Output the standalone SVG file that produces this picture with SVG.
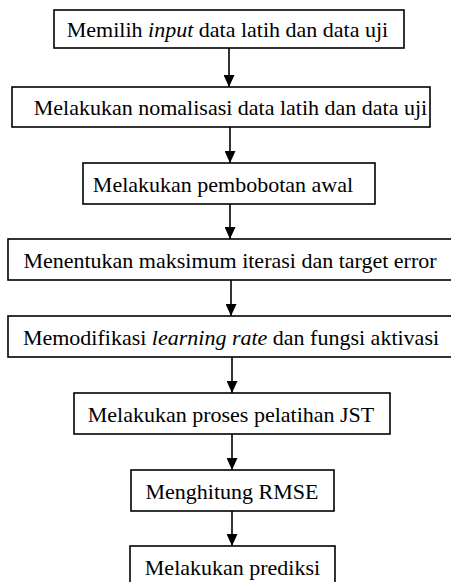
<svg xmlns="http://www.w3.org/2000/svg" width="451" height="582" viewBox="0 0 451 582">
<style>
.box{fill:#fff;stroke:#000;stroke-width:1.6}
.lbl{font-size:22px;fill:#000;text-anchor:middle}
.conn{stroke:#000;stroke-width:1.6;fill:none}
</style>
<defs>
<marker id="ah" markerWidth="12" markerHeight="11" refX="12" refY="5.5" orient="auto" markerUnits="userSpaceOnUse" viewBox="0 0 12 11">
<path d="M0,0 L12,5.5 L0,11 Z" fill="#000"/>
</marker>
</defs>
<rect width="451" height="582" fill="#fff"/>
<g id="connectors">
<line class="conn" marker-end="url(#ah)" x1="229" y1="48" x2="229" y2="87" />
<line class="conn" marker-end="url(#ah)" x1="230" y1="127" x2="230" y2="163" />
<line class="conn" marker-end="url(#ah)" x1="230" y1="204" x2="230" y2="239" />
<line class="conn" marker-end="url(#ah)" x1="231" y1="280" x2="231" y2="316" />
<line class="conn" marker-end="url(#ah)" x1="232" y1="357" x2="232" y2="393" />
<line class="conn" marker-end="url(#ah)" x1="232" y1="434" x2="232" y2="470" />
<line class="conn" marker-end="url(#ah)" x1="232" y1="511" x2="232" y2="546" />
</g>
<g id="n1"><rect class="box" x="54" y="10" width="350" height="38"/><text class="lbl" font-family="Liberation Serif" x="227.5" y="37">Memilih <tspan font-style="italic">input</tspan> data latih dan data uji</text></g>
<g id="n2"><rect class="box" x="12" y="87" width="418" height="40"/><text class="lbl" font-family="Liberation Serif" x="230.5" y="115">Melakukan nomalisasi data latih dan data uji</text></g>
<g id="n3"><rect class="box" x="83" y="163" width="292" height="41"/><text class="lbl" font-family="Liberation Serif" x="223" y="191.5">Melakukan pembobotan awal</text></g>
<g id="n4"><rect class="box" x="8" y="239" width="450" height="41"/><text class="lbl" font-family="Liberation Serif" x="230" y="267.5">Menentukan maksimum iterasi dan target error</text></g>
<g id="n5"><rect class="box" x="8" y="316" width="450" height="41"/><text class="lbl" font-family="Liberation Serif" x="231" y="344.5">Memodifikasi <tspan font-style="italic">learning rate</tspan> dan fungsi aktivasi</text></g>
<g id="n6"><rect class="box" x="74" y="393" width="316" height="41"/><text class="lbl" font-family="Liberation Serif" x="231" y="421.5">Melakukan proses pelatihan JST</text></g>
<g id="n7"><rect class="box" x="131" y="470" width="203" height="41"/><text class="lbl" font-family="Liberation Serif" x="232" y="498.5">Menghitung RMSE</text></g>
<g id="n8"><rect class="box" x="130" y="546" width="205" height="50"/><text class="lbl" font-family="Liberation Serif" x="232.5" y="574.5">Melakukan prediksi</text></g>
</svg>
